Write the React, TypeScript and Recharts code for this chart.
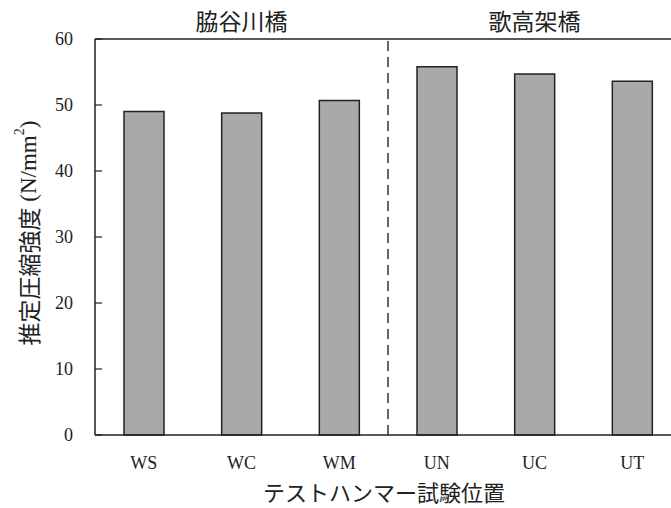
import { Bar, BarChart, XAxis, YAxis, ReferenceLine } from "recharts"

// 試験位置ごとの推定圧縮強度 (N/mm2)
const positions = ["WS", "WC", "WM", "UN", "UC", "UT"]
const bridges = ["脇谷川橋", "脇谷川橋", "脇谷川橋", "歌高架橋", "歌高架橋", "歌高架橋"]
const strength = [49.0, 48.8, 50.7, 55.8, 54.7, 53.6]
const yTicks = [0, 10, 20, 30, 40, 50, 60]

const chartData = positions.map((name, i) => ({
  name,
  bridge: bridges[i],
  value: strength[i],
}))

const serif = "'Liberation Serif', 'DejaVu Serif', serif"
const cjk = "'Noto Sans CJK JP', 'Noto Sans', sans-serif"

function YLabel(props: any) {
  const vb = props.viewBox || {}
  const cx = 28
  const cy = (vb.y ?? 39) + (vb.height ?? 396) / 2 - 4
  return (
    <text
      x={cx}
      y={cy}
      transform={`rotate(-90 ${cx} ${cy})`}
      textAnchor="middle"
      dominantBaseline="central"
      fill="#222"
      style={{ fontFamily: cjk, fontSize: 23 }}
    >
      推定圧縮強度
      <tspan style={{ fontFamily: serif }}> (N/mm</tspan>
      <tspan style={{ fontFamily: serif, fontSize: 14 }} dy={-9}>2</tspan>
      <tspan style={{ fontFamily: serif }} dy={9}>)</tspan>
    </text>
  )
}

export default function App() {
  return (
    <div
      style={{
        position: "fixed",
        left: 0,
        top: 0,
        width: 671,
        height: 508,
        overflow: "hidden",
        background: "#fff",
      }}
    >
      <BarChart
        width={700}
        height={508}
        data={chartData}
        margin={{ top: 0, right: 19, bottom: 0, left: 0 }}
      >
        <XAxis
          xAxisId="top"
          orientation="top"
          dataKey="bridge"
          allowDuplicatedCategory={false}
          height={39}
          tickLine={false}
          tickSize={0}
          tickMargin={9}
          axisLine={{ stroke: "#222", strokeWidth: 1.5 }}
          tick={{ fill: "#222", fontSize: 23, fontFamily: cjk }}
        />
        <XAxis
          dataKey="name"
          height={73}
          tickLine={false}
          tickSize={0}
          tickMargin={21}
          axisLine={{ stroke: "#222", strokeWidth: 1.5 }}
          tick={{ fill: "#222", fontSize: 18, fontFamily: serif }}
          label={{
            value: "テストハンマー試験位置",
            position: "insideBottom",
            offset: 7,
            dx: -4,
            fill: "#222",
            style: { fontSize: 22, fontFamily: cjk },
          }}
        />
        <YAxis
          width={95}
          domain={[0, 60]}
          ticks={yTicks}
          interval={0}
          tickSize={-7}
          tickMargin={29}
          tickLine={{ stroke: "#222", strokeWidth: 1.2 }}
          axisLine={{ stroke: "#222", strokeWidth: 1.5 }}
          tick={{ fill: "#222", fontSize: 18, fontFamily: serif }}
          label={{ content: YLabel }}
        />
        <ReferenceLine
          x="UN"
          position="start"
          stroke="#333"
          strokeWidth={1.5}
          strokeDasharray="10 6"
        />
        <Bar
          dataKey="value"
          barSize={40}
          fill="#a9a9a9"
          stroke="#222"
          strokeWidth={1.5}
          isAnimationActive={false}
        />
      </BarChart>
    </div>
  )
}
